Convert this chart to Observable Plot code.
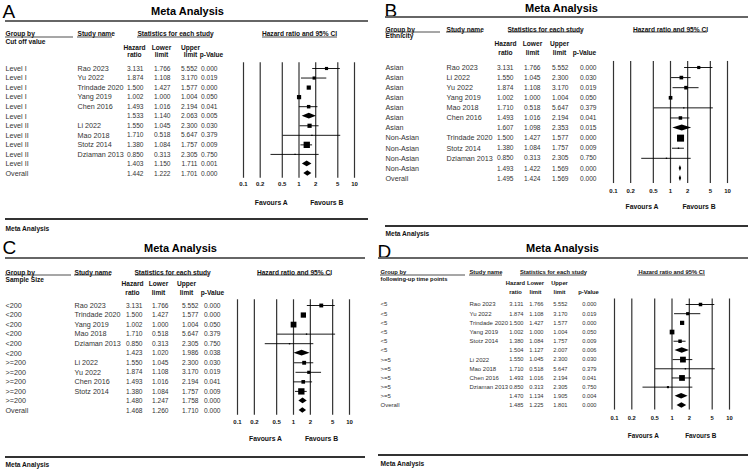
<!DOCTYPE html>
<html><head><meta charset="utf-8">
<script src="https://cdn.jsdelivr.net/npm/d3@7"></script>
<script src="https://cdn.jsdelivr.net/npm/@observablehq/plot@0.6"></script>
<style>
body{margin:0;background:#fff;}
#wrap{position:relative;width:748px;height:475px;overflow:hidden;background:#fff;}
#wrap svg{position:absolute;}
</style></head><body><div id="wrap"></div>
<script>
// ---------- shared labels ----------
const tickValues = [0.1, 0.2, 0.5, 1, 2, 5, 10];
const tickLabels = ["0.1", "0.2", "0.5", "1", "2", "5", "10"];
const favourLabels = ["Favours A", "Favours B"];
const colHeaders = [["Hazard", "ratio"], ["Lower", "limit"], ["Upper", "limit"], ["", "p-Value"]];

// ---------- Panel A: cut off value ----------
const groupsA = ["Level I","Level I","Level I","Level I","Level I","Level I","Level II","Level II","Level II","Level II","Level II","Overall"];
const studiesA = ["Rao 2023","Yu 2022","Trindade 2020","Yang 2019","Chen 2016","","Li 2022","Mao 2018","Stotz 2014","Dziaman 2013","",""];
const hrA = [3.131,1.874,1.500,1.002,1.493,1.533,1.550,1.710,1.380,0.850,1.403,1.442];
const lowerA = [1.766,1.108,1.427,1.000,1.016,1.140,1.045,0.518,1.084,0.313,1.150,1.222];
const upperA = [5.552,3.170,1.577,1.004,2.194,2.063,2.300,5.647,1.757,2.305,1.711,1.701];
const pA = ["0.000","0.019","0.000","0.050","0.041","0.005","0.030","0.379","0.009","0.750","0.001","0.000"];
const weightsA = [18,18,32,32,22,null,32,3.4,72,3.4,null,null];

// ---------- Panel B: ethnicity ----------
const groupsB = ["Asian","Asian","Asian","Asian","Asian","Asian","Asian","Non-Asian","Non-Asian","Non-Asian","Non-Asian","Overall"];
const studiesB = ["Rao 2023","Li 2022","Yu 2022","Yang 2019","Mao 2018","Chen 2016","","Trindade 2020","Stotz 2014","Dziaman 2013","",""];
const hrB = [3.131,1.550,1.874,1.002,1.710,1.493,1.607,1.500,1.380,0.850,1.493,1.495];
const lowerB = [1.766,1.045,1.108,1.000,0.518,1.016,1.098,1.427,1.084,0.313,1.422,1.424];
const upperB = [5.552,2.300,3.170,1.004,5.647,2.194,2.353,1.577,1.757,2.305,1.569,1.569];
const pB = ["0.000","0.030","0.019","0.050","0.379","0.041","0.015","0.000","0.009","0.750","0.000","0.000"];
const weightsB = [18,24,24,24,3.4,22,null,89,3.4,3.4,null,null];

// ---------- Panel C: sample size ----------
const groupsC = ["<200","<200","<200","<200","<200","<200",">=200",">=200",">=200",">=200",">=200","Overall"];
const studiesC = ["Rao 2023","Trindade 2020","Yang 2019","Mao 2018","Dziaman 2013","","Li 2022","Yu 2022","Chen 2016","Stotz 2014","",""];
const hrC = [3.131,1.500,1.002,1.710,0.850,1.423,1.550,1.874,1.493,1.380,1.480,1.468];
const lowerC = [1.766,1.427,1.000,0.518,0.313,1.020,1.045,1.108,1.016,1.084,1.247,1.260];
const upperC = [5.552,1.577,1.004,5.647,2.305,1.986,2.300,3.170,2.194,1.757,1.758,1.710];
const pC = ["0.000","0.000","0.050","0.379","0.750","0.038","0.030","0.019","0.041","0.009","0.000","0.000"];
const weightsC = [27,50,60,3.4,3.4,null,27,18,24,72,null,null];

// ---------- Panel D: following-up time points ----------
const groupsD = ["<5","<5","<5","<5","<5","<5",">=5",">=5",">=5",">=5",">=5","Overall"];
const studiesD = ["Rao 2023","Yu 2022","Trindade 2020","Yang 2019","Stotz 2014","","Li 2022","Mao 2018","Chen 2016","Dziaman 2013","",""];
const hrD = [3.131,1.874,1.500,1.002,1.380,1.504,1.550,1.710,1.493,0.850,1.470,1.485];
const lowerD = [1.766,1.108,1.427,1.000,1.084,1.127,1.045,0.518,1.016,0.313,1.134,1.225];
const upperD = [5.552,3.170,1.577,1.004,1.757,2.007,2.300,5.647,2.194,2.305,1.905,1.801];
const pD = ["0.000","0.019","0.000","0.050","0.009","0.006","0.030","0.379","0.041","0.750","0.004","0.000"];
const weightsD = [22,18,32,40,22,null,60,3.4,60,8,null,null];

const FONT = "'Liberation Sans', Arial, sans-serif";

function rowsOf(groups, studies, hr, lo, up, p, w) {
  return groups.map((g, i) => ({i, group: g, study: studies[i], hr: hr[i], lo: lo[i], up: up[i], p: p[i], w: w[i], diamond: studies[i] === ""}));
}

function segs(list, stroke, sw) {
  return () => {
    const g = d3.create("svg:g").attr("stroke", stroke).attr("stroke-width", sw);
    list.forEach(([x1, y1, x2, y2]) => g.append("line").attr("x1", x1).attr("y1", y1).attr("x2", x2).attr("y2", y2));
    return g.node();
  };
}

function panel(cfg) {
  const [ox, oy] = cfg.origin;
  const X = v => v - ox, Y = v => v - oy;
  const rows = rowsOf(...cfg.data);
  const studyRows = rows.filter(d => !d.diamond);
  const diamonds = rows.filter(d => d.diamond).flatMap(d => [
    {id: d.i, y: d.i - 0.3, x1: d.hr, x2: d.hr},
    {id: d.i, y: d.i, x1: d.lo, x2: d.up},
    {id: d.i, y: d.i + 0.3, x1: d.hr, x2: d.hr}
  ]);
  const fx = (t, x, y, o = {}) => Plot.text([t], {text: d => d, frameAnchor: "top-left", dx: X(x), dy: Y(y), lineAnchor: "middle", fill: "#111", ...o});
  const L = cfg.L;
  const hs = cfg.hdrSize, ns = cfg.nameSize, nums = cfg.numSize;
  const marks = [
    fx(cfg.letter, L.letter[0], L.letter[1], {fontSize: 19, fill: "#000"}),
    fx("Meta Analysis", L.title[0], L.title[1], {fontSize: 11, fontWeight: "bold", textAnchor: "middle", fill: "#000"}),
    segs([[X(L.rule[0]), Y(L.rule[2]), X(L.rule[1]), Y(L.rule[2])]], "#666", 2),
    segs([[X(L.foot[0]), Y(L.foot[2]), X(L.foot[1]), Y(L.foot[2])]], "#333", 2),
    fx("Meta Analysis", L.footText[0], L.footText[1], {fontSize: 6.6, fontWeight: "bold"}),
    // header
    fx("Group by", L.group, L.hdr1, {fontSize: hs, fontWeight: "bold"}),
    fx(cfg.groupBy, L.group, L.hdr2, {fontSize: hs, fontWeight: "bold"}),
    fx("Study name", L.study, L.hdr1, {fontSize: hs, fontWeight: "bold"}),
    fx("Statistics for each study", L.statsC, L.hdr1, {fontSize: hs, fontWeight: "bold", textAnchor: "middle"}),
    fx("Hazard ratio and 95% CI", L.ciC, L.hdr1, {fontSize: hs, fontWeight: "bold", textAnchor: "middle"}),
    segs([
      [X(L.groupUL[0]), Y(L.ul), X(L.groupUL[1]), Y(L.ul)],
      [X(L.studyUL[0]), Y(L.ul), X(L.studyUL[1]), Y(L.ul)],
      [X(L.statsUL[0]), Y(L.ul), X(L.statsUL[1]), Y(L.ul)],
      [X(L.ciUL[0]), Y(L.ul), X(L.ciUL[1]), Y(L.ul)]
    ], "#222", 0.8),
    ...colHeaders.flatMap((pair, k) => [
      fx(pair[0], L.colHdr[k], L.colHdrY[0], {fontSize: hs, fontWeight: "bold", textAnchor: "middle"}),
      fx(pair[1], L.colHdr[k], L.colHdrY[1], {fontSize: hs, fontWeight: "bold", textAnchor: "middle"})
    ]),
    // table rows
    Plot.text(rows, {y: "i", text: "group", frameAnchor: "left", dx: X(L.group), fontSize: ns, fill: "#333"}),
    Plot.text(rows, {y: "i", text: "study", frameAnchor: "left", dx: X(L.study), fontSize: ns, fill: "#333"}),
    Plot.text(rows, {y: "i", text: d => d.hr.toFixed(3), frameAnchor: "left", textAnchor: "end", dx: X(L.cols[0]), fontSize: nums, fill: "#333"}),
    Plot.text(rows, {y: "i", text: d => d.lo.toFixed(3), frameAnchor: "left", textAnchor: "end", dx: X(L.cols[1]), fontSize: nums, fill: "#333"}),
    Plot.text(rows, {y: "i", text: d => d.up.toFixed(3), frameAnchor: "left", textAnchor: "end", dx: X(L.cols[2]), fontSize: nums, fill: "#333"}),
    Plot.text(rows, {y: "i", text: "p", frameAnchor: "left", textAnchor: "end", dx: X(L.cols[3]), fontSize: nums, fill: "#333"}),
    // forest
    Plot.ruleX(tickValues, {x: d => d, y1: -0.6, y2: 11.5, stroke: "#333", strokeWidth: 1.2}),
    Plot.text(tickValues, {x: d => d, text: (d, i) => tickLabels[i], frameAnchor: "top", dy: Y(L.tickY), lineAnchor: "middle", fontSize: cfg.tickSize, fontWeight: "bold", fill: "#111"}),
    Plot.text(favourLabels, {x: [d3.mean([0.1, 1].map(Math.log10)), d3.mean([1, 10].map(Math.log10))].map(v => 10 ** v), text: d => d, frameAnchor: "top", dy: Y(L.favY), lineAnchor: "middle", fontSize: cfg.favSize, fontWeight: "bold", fill: "#111"}),
    Plot.ruleY(studyRows, {y: "i", x1: "lo", x2: "up", stroke: "#000", strokeWidth: 0.9}),
    Plot.dot(studyRows, {x: "hr", y: "i", r: "w", symbol: "square", fill: "#000", stroke: "none"}),
    Plot.areaX(diamonds, {y: "y", x1: "x1", x2: "x2", z: "id", fill: "#000"})
  ];
  const svg = Plot.plot({
    width: cfg.size[0], height: cfg.size[1], margin: 0,
    style: {fontFamily: FONT, background: "transparent", overflow: "visible"},
    x: {type: "log", domain: [0.1, 10], range: [X(L.forest[0]), X(L.forest[1])], axis: null},
    y: {domain: [0, 11], range: [Y(L.rows[0]), Y(L.rows[1])], axis: null},
    r: {type: "sqrt", domain: [0, 100], range: [0, 4.2]},
    marks
  });
  svg.style.left = ox + "px";
  svg.style.top = oy + "px";
  document.getElementById("wrap").appendChild(svg);
}

panel({
  letter: "A", groupBy: "Cut off value", origin: [0, 0], size: [374, 237],
  hdrSize: 6.6, nameSize: 7.2, numSize: 6.6, tickSize: 6, favSize: 6.8,
  data: [groupsA, studiesA, hrA, lowerA, upperA, pA, weightsA],
  L: {letter: [2, 11], title: [187, 11], rule: [5, 368, 21], foot: [5, 368, 219], footText: [5, 228],
      group: 5, study: 77, statsC: 175, ciC: 299, hdr1: 33, hdr2: 41, ul: 37,
      groupUL: [5, 73], studyUL: [77, 112], statsUL: [137, 212], ciUL: [262, 337],
      colHdr: [134, 161, 190, 211], colHdrY: [47, 54], cols: [143, 170, 197, 217],
      rows: [68, 173], forest: [243, 354], tickY: 184, favY: 202}
});
panel({
  letter: "B", groupBy: "Ethnicity", origin: [374, 0], size: [374, 237],
  hdrSize: 6.6, nameSize: 7.2, numSize: 6.6, tickSize: 6, favSize: 6.8,
  data: [groupsB, studiesB, hrB, lowerB, upperB, pB, weightsB],
  L: {letter: [384, 10], title: [561, 8], rule: [385, 748, 17], foot: [385, 748, 226], footText: [385, 233],
      group: 385, study: 446, statsC: 545, ciC: 670, hdr1: 29, hdr2: 35, ul: 32,
      groupUL: [385, 440], studyUL: [446, 482], statsUL: [508, 581], ciUL: [633, 707],
      colHdr: [505, 532, 559, 584], colHdrY: [43, 52], cols: [513, 540, 568, 596],
      rows: [67, 178], forest: [613, 727], tickY: 191, favY: 206}
});
panel({
  letter: "C", groupBy: "Sample Size", origin: [0, 237], size: [374, 238],
  hdrSize: 6.6, nameSize: 7.2, numSize: 6.6, tickSize: 6, favSize: 6.8,
  data: [groupsC, studiesC, hrC, lowerC, upperC, pC, weightsC],
  L: {letter: [2, 247], title: [180, 248], rule: [5, 365, 258], foot: [5, 365, 457], footText: [5, 464],
      group: 5, study: 74, statsC: 172, ciC: 294, hdr1: 272, hdr2: 279, ul: 275,
      groupUL: [5, 71], studyUL: [74, 111], statsUL: [135, 208], ciUL: [257, 331],
      colHdr: [132, 158, 186, 212], colHdrY: [283, 292], cols: [142, 168, 198, 220],
      rows: [305, 410], forest: [237, 349], tickY: 422, favY: 438}
});
panel({
  letter: "D", groupBy: "following-up time points", origin: [374, 237], size: [374, 238],
  hdrSize: 5.8, nameSize: 6.0, numSize: 5.7, tickSize: 5.8, favSize: 6.4,
  data: [groupsD, studiesD, hrD, lowerD, upperD, pD, weightsD],
  L: {letter: [377, 251], title: [562, 248], rule: [378, 748, 258], foot: [378, 748, 455], footText: [380, 463],
      group: 380, study: 469, statsC: 553, ciC: 671, hdr1: 272, hdr2: 279, ul: 275,
      groupUL: [380, 465], studyUL: [469, 502], statsUL: [520, 586], ciUL: [637, 705],
      colHdr: [515, 535, 559, 588], colHdrY: [283, 292], cols: [523, 543, 567, 596],
      rows: [304, 405], forest: [614, 729], tickY: 418, favY: 435}
});
</script></body></html>
